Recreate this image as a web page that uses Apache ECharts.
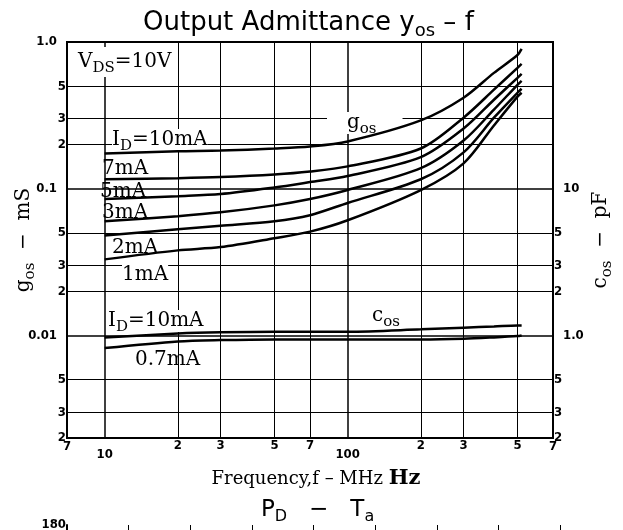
<!DOCTYPE html>
<html>
<head>
<meta charset="utf-8">
<script src="https://cdn.jsdelivr.net/npm/echarts@6/dist/echarts.min.js"></script>
<style>
  html, body { margin: 0; padding: 0; background: #fff; }
  #chart { width: 623px; height: 530px; }
</style>
</head>
<body>
<div id="chart"></div>
<script>
// frequency in MHz
var freq = [10, 20, 30, 50, 70, 100, 200, 300, 400, 500, 520];
// g_os in mS for each drain current
var gos10 = [0.174, 0.180, 0.182, 0.188, 0.194, 0.210, 0.292, 0.417, 0.616, 0.816, 0.897];
var gos7 = [0.116, 0.118, 0.120, 0.125, 0.131, 0.142, 0.188, 0.305, 0.473, 0.667, 0.709];
var gos5 = [0.085, 0.089, 0.092, 0.102, 0.111, 0.122, 0.164, 0.257, 0.404, 0.570, 0.607];
var gos3 = [0.060, 0.065, 0.069, 0.077, 0.085, 0.098, 0.138, 0.213, 0.346, 0.511, 0.544];
var gos2 = [0.048, 0.053, 0.056, 0.060, 0.066, 0.080, 0.116, 0.177, 0.305, 0.451, 0.480];
var gos1 = [0.033, 0.038, 0.040, 0.046, 0.051, 0.061, 0.098, 0.149, 0.270, 0.424, 0.451];
// c_os in pF
var cos10 = [0.97, 1.03, 1.05, 1.06, 1.06, 1.06, 1.10, 1.13, 1.15, 1.17, 1.17];
var cos07 = [0.82, 0.91, 0.93, 0.94, 0.94, 0.94, 0.94, 0.95, 0.97, 0.99, 1.00];

// in-between grid lines of the log scales
var yMinor = [0.5, 0.3, 0.2, 0.05, 0.03, 0.02, 0.005, 0.003];
var yMinorText = ['5', '3', '2', '5', '3', '2', '5', '3'];
var yMinorRight = [false, false, false, true, true, true, true, true];
var xMinor = [20, 30, 50, 70, 200, 300, 500];
var xMinorText = ['2', '3', '5', '7', '2', '3', '5'];

var SERIF = 'DejaVu Serif';
var SANS = 'DejaVu Sans';
var TICK = 'DejaVu Sans Condensed';

function pairs(vals) {
  return freq.map(function (f, i) { return [f, vals[i]]; });
}

function curve(name, vals, axis) {
  return {
    name: name,
    type: 'line',
    yAxisIndex: axis,
    symbol: 'none',
    smooth: 0.3,
    z: 4,
    lineStyle: { color: '#000', width: 2.5 },
    data: pairs(vals)
  };
}

var minorLines = [];
yMinor.forEach(function (v, i) {
  minorLines.push({ yAxis: v, name: yMinorText[i], label: { position: 'start' } });
  if (yMinorRight[i]) {
    minorLines.push({ yAxis: v, name: yMinorText[i], label: { position: 'end' } });
  }
});
xMinor.forEach(function (v, i) {
  minorLines.push({ xAxis: v, name: xMinorText[i], label: { position: 'start' } });
});

var richSerif = {
  n: { fontFamily: SERIF, fontSize: 20, lineHeight: 22, fill: '#000' },
  s: { fontFamily: SERIF, fontSize: 15, lineHeight: 15, padding: [13, 0, 0, 0], fill: '#000' }
};

function label(left, top, text, bg, pad) {
  return {
    type: 'text', left: left, top: top, z: 3,
    style: {
      text: text, rich: richSerif,
      backgroundColor: bg ? '#fff' : null,
      padding: pad || 0
    }
  };
}

var tickFont = { fontFamily: TICK, fontWeight: 'bold', fontSize: 13, color: '#000' };

var series = [
  curve('10mA', gos10, 0),
  curve('7mA', gos7, 0),
  curve('5mA', gos5, 0),
  curve('3mA', gos3, 0),
  curve('2mA', gos2, 0),
  curve('1mA', gos1, 0),
  curve('cos 10mA', cos10, 1),
  curve('cos 0.7mA', cos07, 1)
];
series[0].markLine = {
  silent: true,
  animation: false,
  z: 2,
  precision: 4,
  symbol: ['none', 'none'],
  lineStyle: { color: '#000', width: 1, type: 'solid' },
  label: {
    formatter: '{b}', color: '#000', fontFamily: TICK, fontWeight: 'bold', fontSize: 13, distance: 1
  },
  emphasis: { disabled: true },
  data: minorLines
};

var nameRich = {
  n: { fontFamily: SERIF, fontSize: 20, lineHeight: 22, color: '#000' },
  s: { fontFamily: SERIF, fontSize: 15, lineHeight: 15, padding: [13, 0, 0, 0], color: '#000' }
};

var chart = echarts.init(document.getElementById('chart'));
chart.setOption({
  animation: false,
  backgroundColor: '#fff',
  title: [
    {
      text: '{a|Output Admittance y}{s|os}{a| – f}',
      left: 143, top: 8, padding: 0,
      textStyle: {
        fontWeight: 'normal',
        rich: {
          a: { fontFamily: SANS, fontWeight: 'normal', fontSize: 26, lineHeight: 30, color: '#000' },
          s: { fontFamily: SANS, fontWeight: 'normal', fontSize: 18, lineHeight: 18, padding: [16, 0, 0, 0], color: '#000' }
        }
      }
    },
    {
      text: '{a|P}{s|D}{a|   −   T}{s|a}',
      left: 261, top: 497, padding: 0,
      textStyle: {
        fontWeight: 'normal',
        rich: {
          a: { fontFamily: SANS, fontWeight: 'normal', fontSize: 23, lineHeight: 26, color: '#000' },
          s: { fontFamily: SANS, fontWeight: 'normal', fontSize: 16, lineHeight: 16, padding: [13, 0, 0, 0], color: '#000' }
        }
      }
    }
  ],
  grid: [
    {
      left: 67, right: 70, top: 42, bottom: 92, containLabel: false, outerBoundsMode: 'none',
      show: true, borderColor: '#000', borderWidth: 2
    },
    { left: 67, right: 63, top: 525, height: 300, containLabel: false, outerBoundsMode: 'none' }
  ],
  xAxis: [
    {
      type: 'log', min: 7, max: 700,
      name: '{n|Frequency,f – MHz }{h|Hz}',
      nameLocation: 'middle', nameGap: 31, nameMoveOverlap: false,
      nameTextStyle: {
        padding: [0, 0, 0, 12],
        rich: {
          n: { fontFamily: SERIF, fontSize: 18, lineHeight: 20, color: '#000' },
          h: { fontFamily: SERIF, fontSize: 21, fontWeight: 'bold', lineHeight: 20, color: '#000' }
        }
      },
      axisLine: { show: true, lineStyle: { color: '#000', width: 2 } },
      axisTick: { show: false },
      splitLine: { show: true, lineStyle: { color: '#000', width: 1.5 } },
      axisLabel: {
        margin: 2, interval: 0, showMinLabel: true, showMaxLabel: true,
        formatter: function (v) {
          if (v < 8 || v > 500) return '{e|7}';
          return v < 50 ? '{d|10}' : '{d|100}';
        },
        rich: {
          e: tickFont,
          d: Object.assign({ padding: [8, 0, 0, 0] }, tickFont)
        }
      }
    },
    {
      gridIndex: 1, type: 'value', min: 0, max: 8, interval: 1, position: 'top',
      axisLine: { show: true, lineStyle: { color: '#000', width: 2 } },
      axisTick: { show: false },
      axisLabel: { show: false },
      splitLine: { show: true, lineStyle: { color: '#000', width: 1 } }
    }
  ],
  yAxis: [
    {
      type: 'log', min: 0.002, max: 1,
      name: '{n|g}{s|os}{n|  −  mS}',
      nameLocation: 'middle', nameGap: 32, nameMoveOverlap: false,
      nameTextStyle: { rich: nameRich },
      axisLine: { show: true, lineStyle: { color: '#000', width: 2 } },
      axisTick: { show: false },
      splitLine: { show: true, lineStyle: { color: '#000', width: 1.5 } },
      axisLabel: {
        margin: 1, showMinLabel: true, showMaxLabel: true,
        formatter: function (v) {
          if (v > 0.5) return '{p|1.0}';
          if (v > 0.05) return '{p|0.1}';
          if (v > 0.005) return '{p|0.01}';
          return '{q|2}';
        },
        rich: {
          p: Object.assign({ padding: [0, 9, 0, 0] }, tickFont),
          q: tickFont
        }
      }
    },
    {
      type: 'log', min: 0.2, max: 100, position: 'right',
      name: '{n|c}{s|os}{n|  −  pF}',
      nameLocation: 'middle', nameGap: 37, nameMoveOverlap: false,
      nameTextStyle: { rich: nameRich },
      axisLine: { show: true, lineStyle: { color: '#000', width: 2 } },
      axisTick: { show: false },
      splitLine: { show: false },
      axisLabel: {
        margin: 1, showMinLabel: true, showMaxLabel: true,
        formatter: function (v) {
          if (v > 50) return '';
          if (v > 5) return '{p|10}';
          if (v > 0.5) return '{p|1.0}';
          return '{q|2}';
        },
        rich: {
          p: Object.assign({ padding: [0, 0, 0, 9] }, tickFont),
          q: tickFont
        }
      }
    },
    {
      gridIndex: 1, type: 'value', min: 0, max: 180, interval: 180,
      axisLine: { show: true, lineStyle: { color: '#000', width: 2 } },
      axisTick: { show: false },
      splitLine: { show: false },
      axisLabel: {
        margin: 1, color: '#000', fontFamily: TICK, fontWeight: 'bold', fontSize: 13,
        formatter: function (v) { return v === 180 ? '180' : ''; }
      }
    }
  ],
  graphic: [
    label(74, 47, '{n|V}{s|DS}{n|=10V}', true, [4, 4, 4, 4]),
    label(112, 126, '{n|I}{s|D}{n|=10mA}', true),
    label(102, 159, '{n|7mA}'),
    label(100, 182, '{n|5mA}'),
    label(102, 203, '{n|3mA}'),
    label(112, 238, '{n|2mA}'),
    label(122, 264, '{n|1mA}', true),
    label(327, 109, '{n|g}{s|os}', true, [0, 26, 0, 20]),
    label(108, 307, '{n|I}{s|D}{n|=10mA}', true),
    label(370, 302, '{n|c}{s|os}', true, [0, 2, 0, 2]),
    label(135, 350, '{n|0.7mA}')
  ],
  series: series
});
</script>
</body>
</html>
